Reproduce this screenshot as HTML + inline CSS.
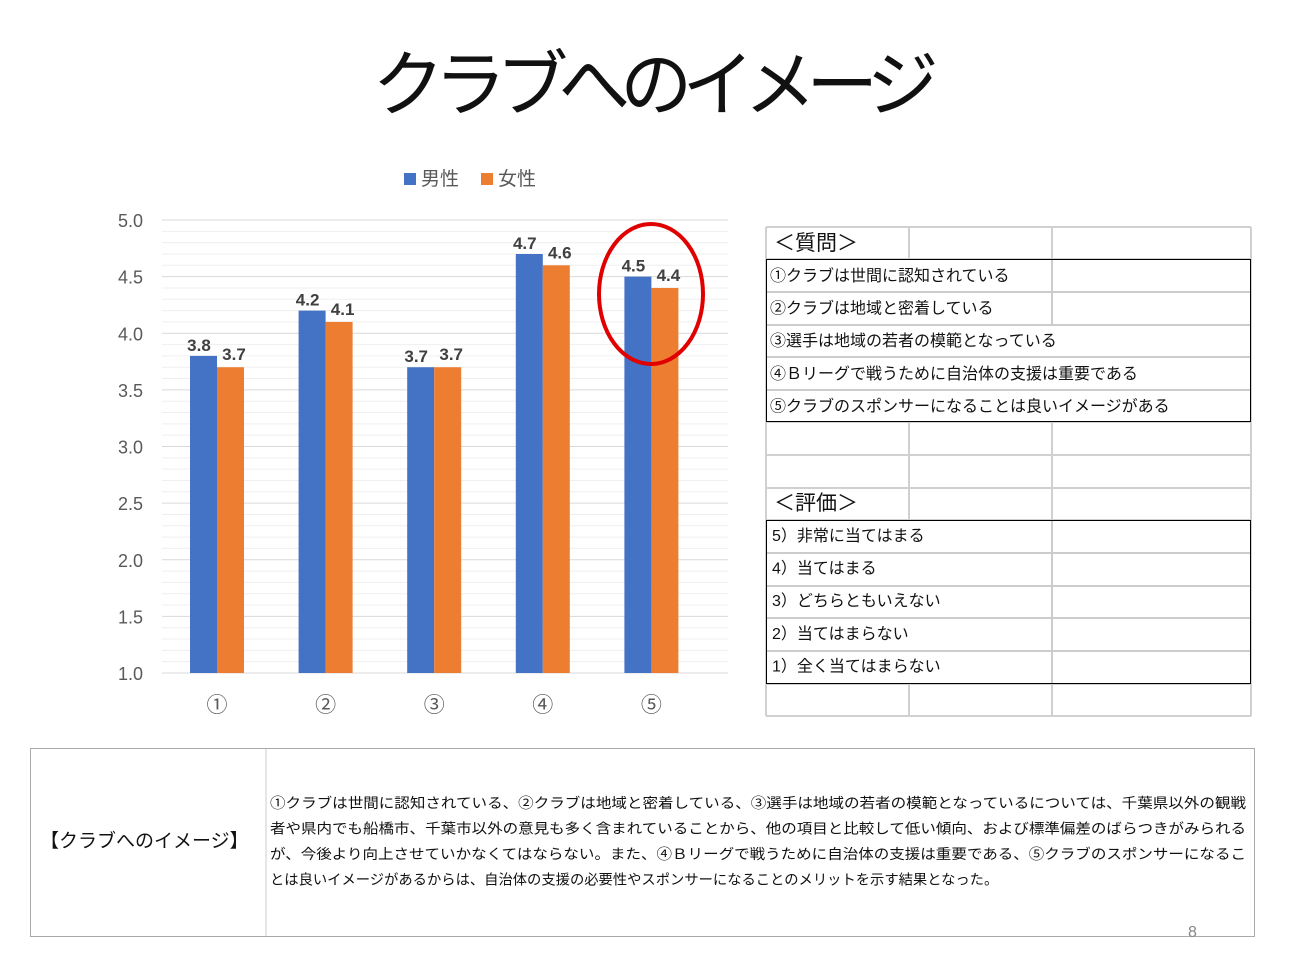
<!DOCTYPE html>
<html><head><meta charset="utf-8"><style>
body{margin:0;background:#fff;width:1301px;height:965px;position:relative;overflow:hidden;font-family:"Liberation Sans","Noto Sans CJK JP",sans-serif}
.a{position:absolute}
</style></head><body>
<div class="a" style="left:0;width:1301px;top:26px;text-align:center;font-size:72px;letter-spacing:-10px;color:#111;font-weight:normal">クラブへのイメージ</div>
<svg id="sv" class="a" style="left:0;top:0" width="1301" height="965" font-family="Liberation Sans,Noto Sans CJK JP,sans-serif"></svg>
<script>
var s='',y0=673,u=113.25;
s+='<rect x="404" y="173" width="12" height="12" fill="#4472c4"/><text x="421" y="185" font-size="19" fill="#595959">男性</text>';
s+='<rect x="481" y="173" width="12" height="12" fill="#ed7d31"/><text x="498" y="185" font-size="19" fill="#595959">女性</text>';
for(var i=0;i<=40;i++){var y=y0-i*u/10;s+='<line x1="162" x2="728" y1="'+y+'" y2="'+y+'" stroke="'+(i%5==0?'#d9d9d9':'#efefef')+'" stroke-width="1"/>';}
for(var i=0;i<=8;i++){var y=y0-i*u/2;s+='<text x="143" y="'+(y+7)+'" font-size="18" fill="#595959" text-anchor="end">'+(1+i*0.5).toFixed(1)+'</text>';}
var m=[3.8,4.2,3.7,4.7,4.5],f=[3.7,4.1,3.7,4.6,4.4],c=['①','②','③','④','⑤'];
for(var k=0;k<5;k++){var cx=217+k*108.6;var ym=y0-(m[k]-1)*u,yf=y0-(f[k]-1)*u;
s+='<rect x="'+(cx-27)+'" y="'+ym+'" width="27" height="'+(y0-ym)+'" fill="#4472c4"/>';
s+='<rect x="'+cx+'" y="'+yf+'" width="27" height="'+(y0-yf)+'" fill="#ed7d31"/>';
s+='<text x="'+(cx-18)+'" y="'+(ym-5)+'" font-size="17" font-weight="bold" fill="#404040" text-anchor="middle">'+m[k].toFixed(1)+'</text>';
s+='<text x="'+(cx+17)+'" y="'+(yf-7)+'" font-size="17" font-weight="bold" fill="#404040" text-anchor="middle">'+f[k].toFixed(1)+'</text>';
s+='<text x="'+cx+'" y="712" font-size="21" fill="#595959" text-anchor="middle">'+c[k]+'</text>';}
s+='<ellipse cx="651" cy="294" rx="52" ry="70" fill="none" stroke="#e00000" stroke-width="4"/>';
var rows=[227,259,292,325,357,390,422,455,488,520,553,586,618,651,684,716];
for(var r=0;r<rows.length;r++)s+='<line x1="766" x2="1251" y1="'+rows[r]+'" y2="'+rows[r]+'" stroke="#d0d0d0" stroke-width="2"/>';
[766,909,1052,1251].forEach(function(x){s+='<line x1="'+x+'" x2="'+x+'" y1="227" y2="716" stroke="#d0d0d0" stroke-width="2"/>';});
s+='<rect x="766" y="259" width="485" height="163" fill="#fff"/><rect x="766" y="520" width="485" height="164" fill="#fff"/>';
[292,325,357,390,553,586,618,651].forEach(function(y){s+='<line x1="766" x2="1251" y1="'+y+'" y2="'+y+'" stroke="#ccc" stroke-width="2"/>';});
s+='<line x1="1052" x2="1052" y1="259" y2="325" stroke="#ccc" stroke-width="2"/><line x1="1052" x2="1052" y1="520" y2="684" stroke="#ccc" stroke-width="2"/>';
s+='<rect x="766.5" y="259.5" width="484" height="162" fill="none" stroke="#000"/><rect x="766.5" y="520.5" width="484" height="163" fill="none" stroke="#000"/>';
var q=['①クラブは世間に認知されている','②クラブは地域と密着している','③選手は地域の若者の模範となっている','④Ｂリーグで戦うために自治体の支援は重要である','⑤クラブのスポンサーになることは良いイメージがある'];
for(var i=0;i<5;i++)s+='<text x="770" y="'+(281+i*32.6)+'" font-size="16" fill="#111">'+q[i]+'</text>';
var e=['5）非常に当てはまる','4）当てはまる','3）どちらともいえない','2）当てはまらない','1）全く当てはまらない'];
for(var i=0;i<5;i++)s+='<text x="772" y="'+(541+i*32.6)+'" font-size="16" fill="#111">'+e[i]+'</text>';
s+='<text x="774" y="250" font-size="21" fill="#111">＜質問＞</text><text x="774" y="510" font-size="21" fill="#111">＜評価＞</text>';
s+='<rect x="30.5" y="748.5" width="1224" height="188" fill="none" stroke="#555" stroke-dasharray="1,1"/><line x1="266" x2="266" y1="749" y2="936" stroke="#ccc"/>';
s+='<text x="40" y="847" font-size="19" fill="#111">【クラブへのイメージ】</text>';
var t=['①クラブは世間に認知されている、②クラブは地域と密着している、③選手は地域の若者の模範となっているについては、千葉県以外の観戦','者や県内でも船橋市、千葉市以外の意見も多く含まれていることから、他の項目と比較して低い傾向、および標準偏差のばらつきがみられる','が、今後より向上させていかなくてはならない。また、④Ｂリーグで戦うために自治体の支援は重要である、⑤クラブのスポンサーになるこ','とは良いイメージがあるからは、自治体の支援の必要性やスポンサーになることのメリットを示す結果となった。'];
for(var i=0;i<4;i++)s+='<text x="270" y="'+(808+i*25.5)+'" font-size="14.3" fill="#111" '+(i<3?'textLength="976" lengthAdjust="spacingAndGlyphs"':'')+'>'+t[i]+'</text>';
s+='<text x="1188" y="937" font-size="16" fill="#888">8</text>';
document.getElementById('sv').innerHTML=s;
</script>
</body></html>
